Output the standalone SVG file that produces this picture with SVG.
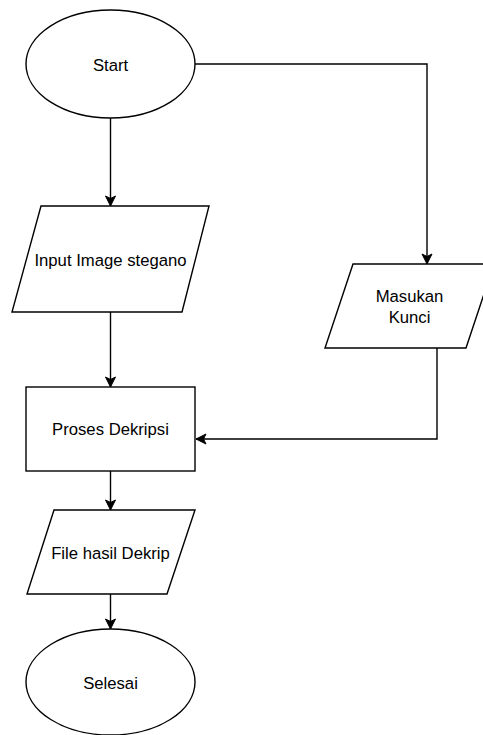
<svg xmlns="http://www.w3.org/2000/svg" width="483" height="735" viewBox="0 0 483 735">
  <defs>
    <style>
      .shape { fill: #ffffff; stroke: #000000; stroke-width: 1.4; }
      .edge { fill: none; stroke: #000000; stroke-width: 1.4; }
      .label { font-family: "Liberation Sans", Arial, sans-serif; font-size: 16.7px; fill: #000000; text-anchor: middle; }
    </style>
    <marker id="arrow" markerUnits="userSpaceOnUse" markerWidth="12" markerHeight="12" viewBox="0 0 12 12" refX="11" refY="6" orient="auto">
      <path d="M11,6 L1,1 L3.5,6 L1,11 Z" fill="#000000" stroke="#000000" stroke-width="1"/>
    </marker>
  </defs>
  <rect width="483" height="735" fill="#ffffff"/>

  <g id="connectors">
    <path class="edge" d="M110.5,118 L110.5,206" marker-end="url(#arrow)"/>
    <path class="edge" d="M195,64 L427,64 L427,264" marker-end="url(#arrow)"/>
    <path class="edge" d="M110.5,312 L110.5,387" marker-end="url(#arrow)"/>
    <path class="edge" d="M437,348 L437,439 L196,439" marker-end="url(#arrow)"/>
    <path class="edge" d="M110.5,471 L110.5,510" marker-end="url(#arrow)"/>
    <path class="edge" d="M110.5,594 L110.5,629" marker-end="url(#arrow)"/>
  </g>

  <g id="start">
    <ellipse class="shape" cx="110.5" cy="64" rx="84.5" ry="54"/>
    <text class="label" x="110.5" y="70.5">Start</text>
  </g>

  <g id="input-image">
    <polygon class="shape" points="41,206 209,206 182,312 12,312"/>
    <text class="label" x="110.5" y="266">Input Image stegano</text>
  </g>

  <g id="masukan-kunci">
    <polygon class="shape" points="353,264 494,264 466,348 325,348"/>
    <text class="label" x="409.5" y="302">Masukan</text>
    <text class="label" x="409.5" y="323">Kunci</text>
  </g>

  <g id="proses-dekripsi">
    <rect class="shape" x="26" y="387" width="169" height="84"/>
    <text class="label" x="110.5" y="435">Proses Dekripsi</text>
  </g>

  <g id="file-hasil">
    <polygon class="shape" points="54,510 195,510 167,594 27,594"/>
    <text class="label" x="110.5" y="558.5">File hasil Dekrip</text>
  </g>

  <g id="selesai">
    <ellipse class="shape" cx="110.5" cy="682" rx="84.5" ry="53"/>
    <text class="label" x="110.5" y="688.5">Selesai</text>
  </g>
</svg>
